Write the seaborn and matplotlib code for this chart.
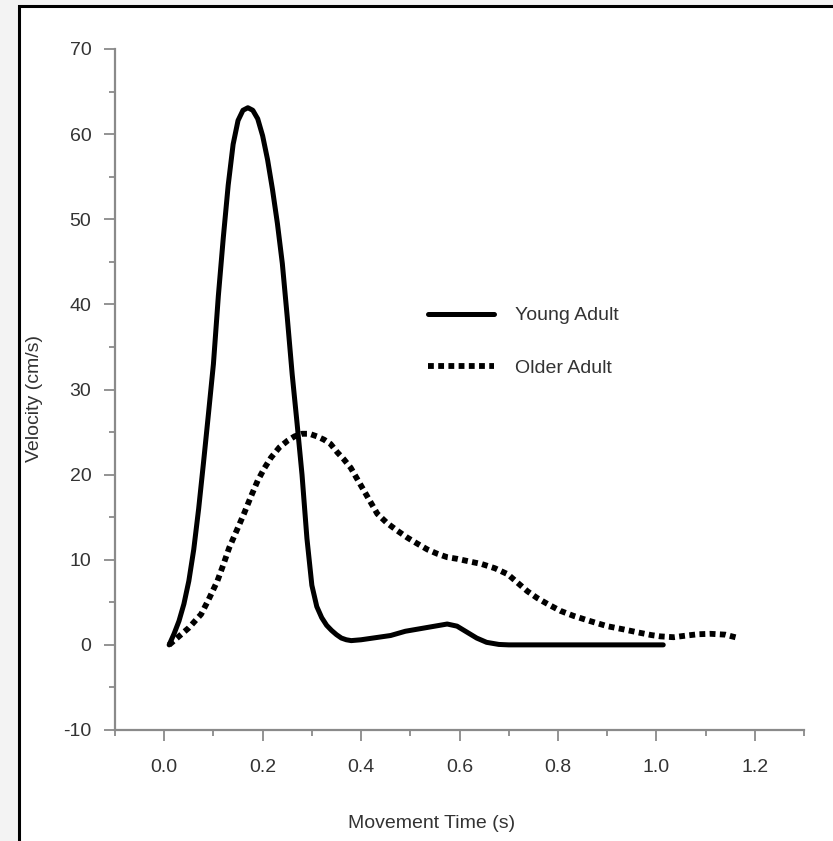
import numpy as np
import pandas as pd
import matplotlib
matplotlib.use("Agg")
import matplotlib.pyplot as plt
from matplotlib.ticker import MultipleLocator
from matplotlib.patches import Rectangle
import seaborn as sns

# values (time in s, velocity in cm/s)
young_t = [0.01, 0.02, 0.03, 0.04, 0.05, 0.06, 0.07, 0.08, 0.09, 0.10,
           0.11, 0.12, 0.13, 0.14, 0.15, 0.16, 0.17, 0.18, 0.19, 0.20,
           0.21, 0.22, 0.23, 0.24, 0.25, 0.26, 0.27, 0.28, 0.29, 0.30,
           0.31, 0.32, 0.33, 0.34, 0.35, 0.36, 0.37, 0.38, 0.40, 0.43,
           0.46, 0.49, 0.52, 0.55, 0.575, 0.595, 0.615, 0.635, 0.655, 0.68,
           0.70, 0.80, 0.90, 1.014]
young_v = [0, 1.3, 2.8, 4.8, 7.5, 11.2, 16.0, 21.5, 27.2, 33.0,
           41.0, 47.8, 54.0, 58.8, 61.6, 62.8, 63.1, 62.8, 61.8, 59.8,
           57.0, 53.5, 49.5, 44.8, 38.5, 31.8, 26.0, 20.0, 12.5, 7.0,
           4.5, 3.2, 2.3, 1.7, 1.2, 0.8, 0.6, 0.5, 0.6, 0.85,
           1.1, 1.6, 1.9, 2.2, 2.45, 2.2, 1.5, 0.8, 0.3, 0.05,
           0, 0, 0, 0]

older_t = [0.01, 0.02, 0.034, 0.05, 0.075, 0.09, 0.108, 0.12, 0.132, 0.147,
           0.162, 0.176, 0.19, 0.204, 0.217, 0.234, 0.251, 0.265, 0.28, 0.295,
           0.31, 0.325, 0.338, 0.352, 0.365, 0.379, 0.392, 0.406, 0.42, 0.433,
           0.453, 0.474, 0.494, 0.514, 0.535, 0.555, 0.575, 0.596, 0.62, 0.645,
           0.672, 0.698, 0.718, 0.738, 0.758, 0.779, 0.805, 0.832, 0.865, 0.90,
           0.935, 0.968, 0.99, 1.008, 1.035, 1.062, 1.085, 1.11, 1.14, 1.167]
older_v = [0, 0.5, 1.2, 2.0, 3.6, 5.3, 7.5, 9.4, 11.4, 13.4,
           15.4, 17.4, 19.3, 20.8, 22.0, 23.2, 24.0, 24.5, 24.8, 24.8,
           24.5, 24.1, 23.6, 22.6, 21.8, 20.8, 19.5, 18.1, 16.7, 15.4,
           14.3, 13.4, 12.6, 11.9, 11.2, 10.7, 10.3, 10.1, 9.8, 9.5,
           9.0, 8.3, 7.3, 6.3, 5.5, 4.8, 4.0, 3.4, 2.8, 2.2,
           1.8, 1.4, 1.15, 1.0, 0.9, 1.1, 1.25, 1.3, 1.2, 0.8]

young = pd.DataFrame({"t": young_t, "v": young_v})
older = pd.DataFrame({"t": older_t, "v": older_v})

sns.set_theme(style="ticks")
plt.rcParams["font.family"] = ["Liberation Sans", "DejaVu Sans"]
plt.rcParams["axes.unicode_minus"] = False

grey = "#8a8a8a"
txt = "#333333"

fig = plt.figure(figsize=(8.33, 8.41), dpi=100, facecolor="#f3f3f3")
fig.patches.append(Rectangle((19 / 833, -0.1), 1.2, 1.1 - 6 / 841, transform=fig.transFigure,
                             facecolor="white", edgecolor="black", lw=2.2, zorder=-1))
ax = fig.add_axes([115 / 833, 1 - 730 / 841, 689 / 833, 681 / 841])
ax.set_facecolor("none")

sns.lineplot(data=young, x="t", y="v", ax=ax, color="black", lw=3.6,
             label="Young Adult", sort=False)
sns.lineplot(data=older, x="t", y="v", ax=ax, color="black", lw=4.2,
             label="Older Adult", sort=False)
ax.lines[0].set_solid_joinstyle("round")
ax.lines[1].set_dashes([1, 0.75])
ax.lines[1].set_dash_capstyle("butt")

ax.set_xlim(-0.1, 1.3)
ax.set_ylim(-10, 70)
ax.set_xticks(np.arange(0, 1.21, 0.2))
ax.set_xticklabels(["0.0", "0.2", "0.4", "0.6", "0.8", "1.0", "1.2"])
ax.xaxis.set_minor_locator(MultipleLocator(0.1))
ax.set_yticks(np.arange(-10, 71, 10))
ax.set_yticklabels(["-10", "0", "10", "20", "30", "40", "50", "60", "70"])
ax.yaxis.set_minor_locator(MultipleLocator(5))

for side in ["top", "right"]:
    ax.spines[side].set_visible(False)
for side in ["left", "bottom"]:
    ax.spines[side].set_color(grey)
    ax.spines[side].set_linewidth(1.6)

ax.tick_params(which="major", length=8, width=1.3, color=grey, labelsize=14, labelcolor=txt)
ax.tick_params(which="minor", length=4, width=1.3, color=grey)
ax.tick_params(axis="x", which="major", pad=13)
ax.tick_params(axis="y", which="major", pad=9)

ax.set_xlabel("Movement Time (s)", fontsize=14, color=txt)
ax.set_ylabel("Velocity (cm/s)", fontsize=14, color=txt)
ax.xaxis.set_label_coords(0.459, -0.125)
ax.yaxis.set_label_coords(-0.105, 0.487)

leg = ax.legend(loc="center left", bbox_to_anchor=(0.454, 0.57), frameon=False,
                fontsize=14, handlelength=3.4, handletextpad=1.1, labelspacing=1.8,
                borderpad=0, borderaxespad=0)
for t in leg.get_texts():
    t.set_color(txt)

fig.savefig("out.png", dpi=100, facecolor=fig.get_facecolor())
